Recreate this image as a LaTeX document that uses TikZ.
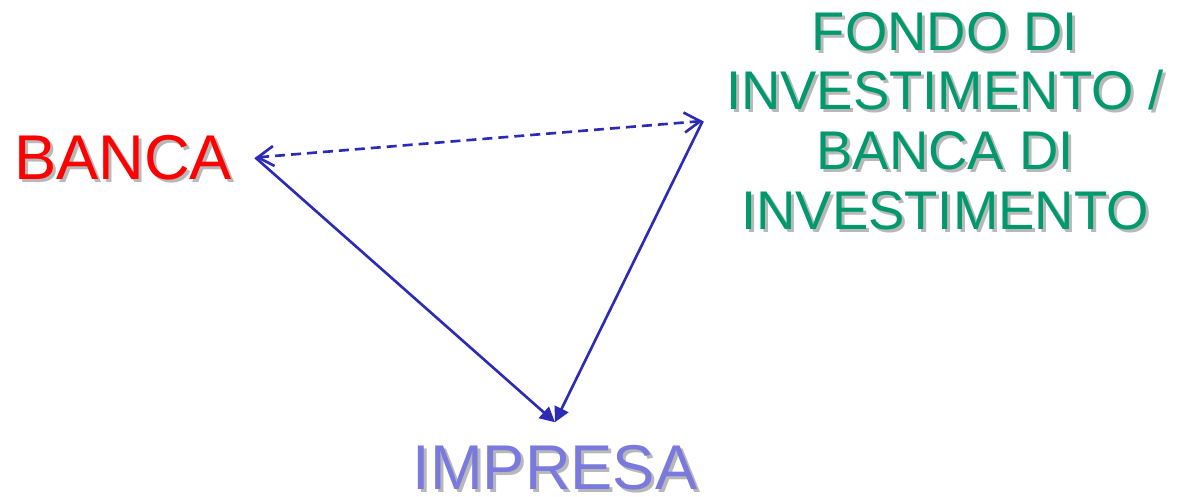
\documentclass[tikz,border=0pt]{standalone}
\usepackage{fontspec}
\setmainfont{Liberation Sans}
\usetikzlibrary{arrows.meta}
\definecolor{linkblue}{RGB}{43,43,181}
\definecolor{bancared}{RGB}{255,0,0}
\definecolor{fondogreen}{RGB}{0,153,110}
\definecolor{impresablue}{RGB}{122,122,222}
\newcommand\shadowed[1]{\makebox[0pt][l]{\hspace{0.06cm}\raisebox{-0.06cm}[0pt][0pt]{\textcolor{black!28}{#1}}}#1}
\tikzset{
  actor/.style={inner sep=0.46cm, font=\fontsize{36}{40}\selectfont},
  link/.style={draw=linkblue, line width=1.5pt},
}
\begin{document}
\begin{tikzpicture}
			\useasboundingbox (0,0) rectangle (23.64,9.92);
			\node[actor, text=bancared] (banca) at (2.46,6.77) {\shadowed{BANCA}};
			\node[actor, text=impresablue] (impresa) at (11.1,0.56) {\shadowed{IMPRESA}};
			\node[actor, text=fondogreen, align=center, font=\fontsize{31}{34}\selectfont] (fondo) at (18.9,7.5)
				{\shadowed{FONDO DI}\\\shadowed{INVESTIMENTO /}\\\shadowed{BANCA DI}\\\shadowed{INVESTIMENTO}};
			\draw[link, dash pattern=on 2mm off 1.2mm, {Straight Barb[length=3.2mm,width=4mm]}-{Straight Barb[length=3.2mm,width=4mm]}] (banca.east) -- (fondo.west);
			\draw[link, -{Triangle[length=3mm,width=3mm]}] (banca.east) -- (impresa.north);
			\draw[link, -{Triangle[length=3mm,width=3mm]}] (fondo.west) -- (impresa.north);
		\end{tikzpicture}
\end{document}
